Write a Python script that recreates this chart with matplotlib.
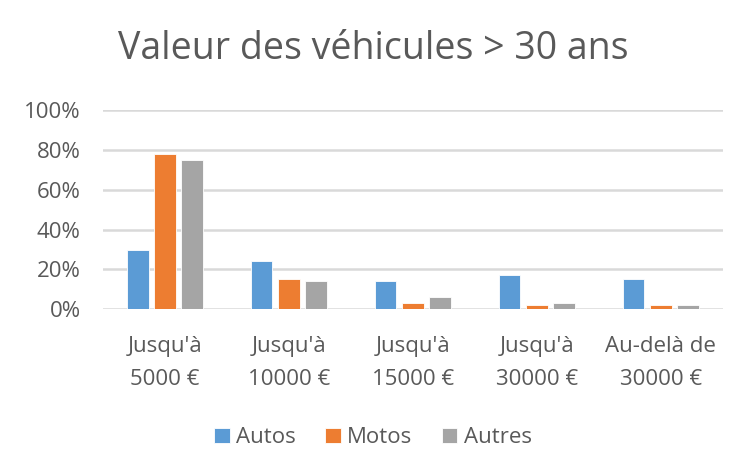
import numpy as np
import matplotlib.pyplot as plt

categories = ["Jusqu'à\n5000 €", "Jusqu'à\n10000 €", "Jusqu'à\n15000 €",
              "Jusqu'à\n30000 €", "Au-delà de\n30000 €"]
autos = [0.30, 0.24, 0.14, 0.17, 0.15]
motos = [0.78, 0.15, 0.03, 0.02, 0.02]
autres = [0.75, 0.14, 0.06, 0.03, 0.02]

series = [("Autos", autos, "#5b9bd5"),
          ("Motos", motos, "#ed7d31"),
          ("Autres", autres, "#a5a5a5")]

plt.rcParams['font.family'] = ['Open Sans', 'DejaVu Sans']
text_color = "#595959"

fig = plt.figure(figsize=(7.46, 4.75), dpi=100)
ax = fig.add_axes([0.138, 0.349, 0.831, 0.419])

x = np.arange(len(categories))
step = 0.221
width = 0.177
for i, (name, vals, col) in enumerate(series):
    ax.bar(x + (i - 1) * step, vals, width, color=col, label=name,
           edgecolor="white", linewidth=0.6, zorder=3)

ax.set_xlim(-0.5, len(categories) - 0.5)
ax.set_ylim(0, 1.0)
ax.set_yticks(np.arange(0, 1.01, 0.2))
ax.set_yticklabels([f"{int(round(v * 100))}%" for v in np.arange(0, 1.01, 0.2)])
ax.set_xticks(x)
ax.set_xticklabels(categories, linespacing=1.78)
ax.grid(axis="y", color="#d9d9d9", linewidth=1.8, zorder=0)
for s in ax.spines.values():
    s.set_visible(False)
ax.tick_params(length=0, labelsize=16, colors=text_color)
ax.tick_params(axis="y", pad=16)
ax.tick_params(axis="x", pad=19)

fig.text(0.5, 0.897, "Valeur des véhicules > 30 ans", ha="center", va="center",
         fontsize=27, color=text_color)

fig.legend(loc="center", bbox_to_anchor=(0.5, 0.078), ncol=3, frameon=False,
           fontsize=16, labelcolor=text_color, handlelength=0.7, handleheight=0.7,
           handletextpad=0.3, columnspacing=1.3)

fig.savefig("out.png", dpi=100)
